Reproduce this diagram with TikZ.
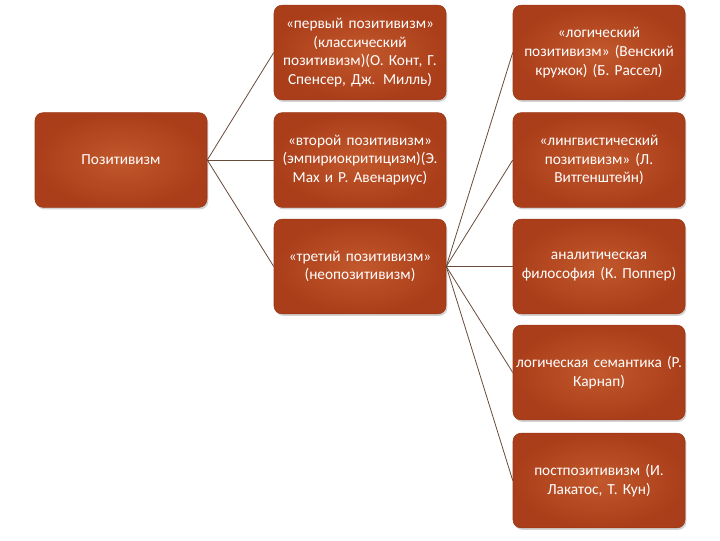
\documentclass[tikz,border=0pt]{standalone}
\usepackage{fontspec}
\setmainfont{Carlito}
\usetikzlibrary{shadows}
\definecolor{rustlight}{RGB}{194,88,44}
\definecolor{rustdark}{RGB}{170,62,26}
\definecolor{linkgray}{RGB}{105,75,60}

\begin{document}
\begin{tikzpicture}[x=0.75pt, y=-0.75pt,
    box/.style={draw=rustdark!90!black, line width=0.4pt, rounded corners=6pt, inner color=rustlight, outer color=rustdark,
        minimum width=129pt, minimum height=71pt, inner xsep=1pt, text width=127pt, align=center, text=white,
        font=\fontsize{11.5}{14}\selectfont, drop shadow={shadow xshift=1pt, shadow yshift=-1.5pt, opacity=0.35}},
    link/.style={draw=linkgray, line width=0.6pt}]
    \useasboundingbox (0,0) rectangle (720,540);
    \node[box] (root) at (121,160) {Позитивизм};
    \node[box] (first) at (360,52.5) {«первый позитивизм»\\(классический\\позитивизм)(О. Конт, Г.\\Спенсер, Дж. Милль)};
    \node[box] (second) at (360,160) {«второй позитивизм»\\(эмпириокритицизм)(Э.\\Мах и Р. Авенариус)};
    \node[box] (third) at (360,266.5) {«третий позитивизм»\\(неопозитивизм)};
    \node[box] (logical) at (599,52.5) {«логический\\позитивизм» (Венский\\кружок) (Б. Рассел)};
    \node[box] (linguistic) at (599,160) {«лингвистический\\позитивизм» (Л.\\Витгенштейн)};
    \node[box] (analytic) at (599,266.5) {аналитическая\\философия (К. Поппер)};
    \node[box] (semantic) at (599,372.5) {логическая семантика (Р.\\Карнап)};
    \node[box] (postpos) at (599,480.5) {постпозитивизм (И.\\Лакатос, Т. Кун)};
    % root to the three positivisms
    \draw[link] (root.east) -- (first.west);
    \draw[link] (root.east) -- (second.west);
    \draw[link] (root.east) -- (third.west);
    % third positivism to its branches
    \draw[link] (third.east) -- (logical.west);
    \draw[link] (third.east) -- (linguistic.west);
    \draw[link] (third.east) -- (analytic.west);
    \draw[link] (third.east) -- (semantic.west);
    \draw[link] (third.east) -- (postpos.west);
\end{tikzpicture}
\end{document}
